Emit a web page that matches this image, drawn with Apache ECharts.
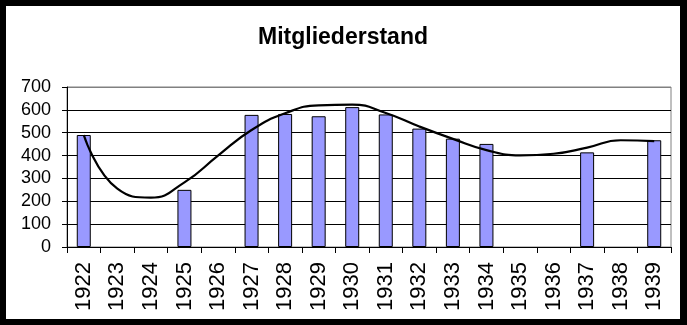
<!DOCTYPE html>
<html>
<head>
<meta charset="utf-8">
<script src="https://cdn.jsdelivr.net/npm/echarts@6/dist/echarts.min.js"></script>
<style>
html,body{margin:0;padding:0;background:#000;width:687px;height:325px;overflow:hidden;}
#c{position:absolute;left:6px;top:6px;width:674px;height:313px;background:#fff;}
</style>
</head>
<body>
<div id="c"></div>
<script>
const years = ['1922','1923','1924','1925','1926','1927','1928','1929','1930','1931','1932','1933','1934','1935','1936','1937','1938','1939'];
const members = [490,null,null,250,null,578,582,572,612,580,518,474,451,null,null,414,null,467];
const trend = [490,255,216,283,400,512,585,620,623,586,527,473,424,401,408,435,467,463];
const yTicks = [0,100,200,300,400,500,600,700];

const chart = echarts.init(document.getElementById('c'));
const font = 'Liberation Sans, Arial, sans-serif';
chart.setOption({
  animation:false,
  title:{text:'Mitgliederstand',left:'center',top:15,
    textStyle:{fontFamily:font,fontSize:23,fontWeight:'bold',color:'#000'}},
  grid:{left:61,top:81,right:9,bottom:72,show:true,borderColor:'#808080',borderWidth:1},
  xAxis:{type:'category',data:years,boundaryGap:true,
    axisLine:{lineStyle:{color:'#000',width:1}},
    axisTick:{show:true,interval:0,length:6,lineStyle:{color:'#000'}},
    axisLabel:{interval:0,rotate:90,margin:15,fontFamily:font,fontSize:22,color:'#000'}},
  yAxis:{type:'value',min:yTicks[0],max:yTicks[yTicks.length-1],interval:100,
    axisLine:{show:true,lineStyle:{color:'#000',width:1}},
    axisTick:{show:true,length:5,lineStyle:{color:'#000'}},
    axisLabel:{margin:16,fontFamily:font,fontSize:18,color:'#000'},
    splitLine:{show:true,lineStyle:{color:['#000','#000','#000','#000','#000','#000','#000','#808080'],width:1}}},
  series:[
    {type:'bar',data:members,barWidth:14,
      itemStyle:{color:'#9999FF',borderColor:'#000',borderWidth:1}},
    {type:'line',data:trend,smooth:0.5,showSymbol:false,symbol:'none',
      lineStyle:{color:'#000',width:2.2}}
  ]
});
</script>
</body>
</html>
